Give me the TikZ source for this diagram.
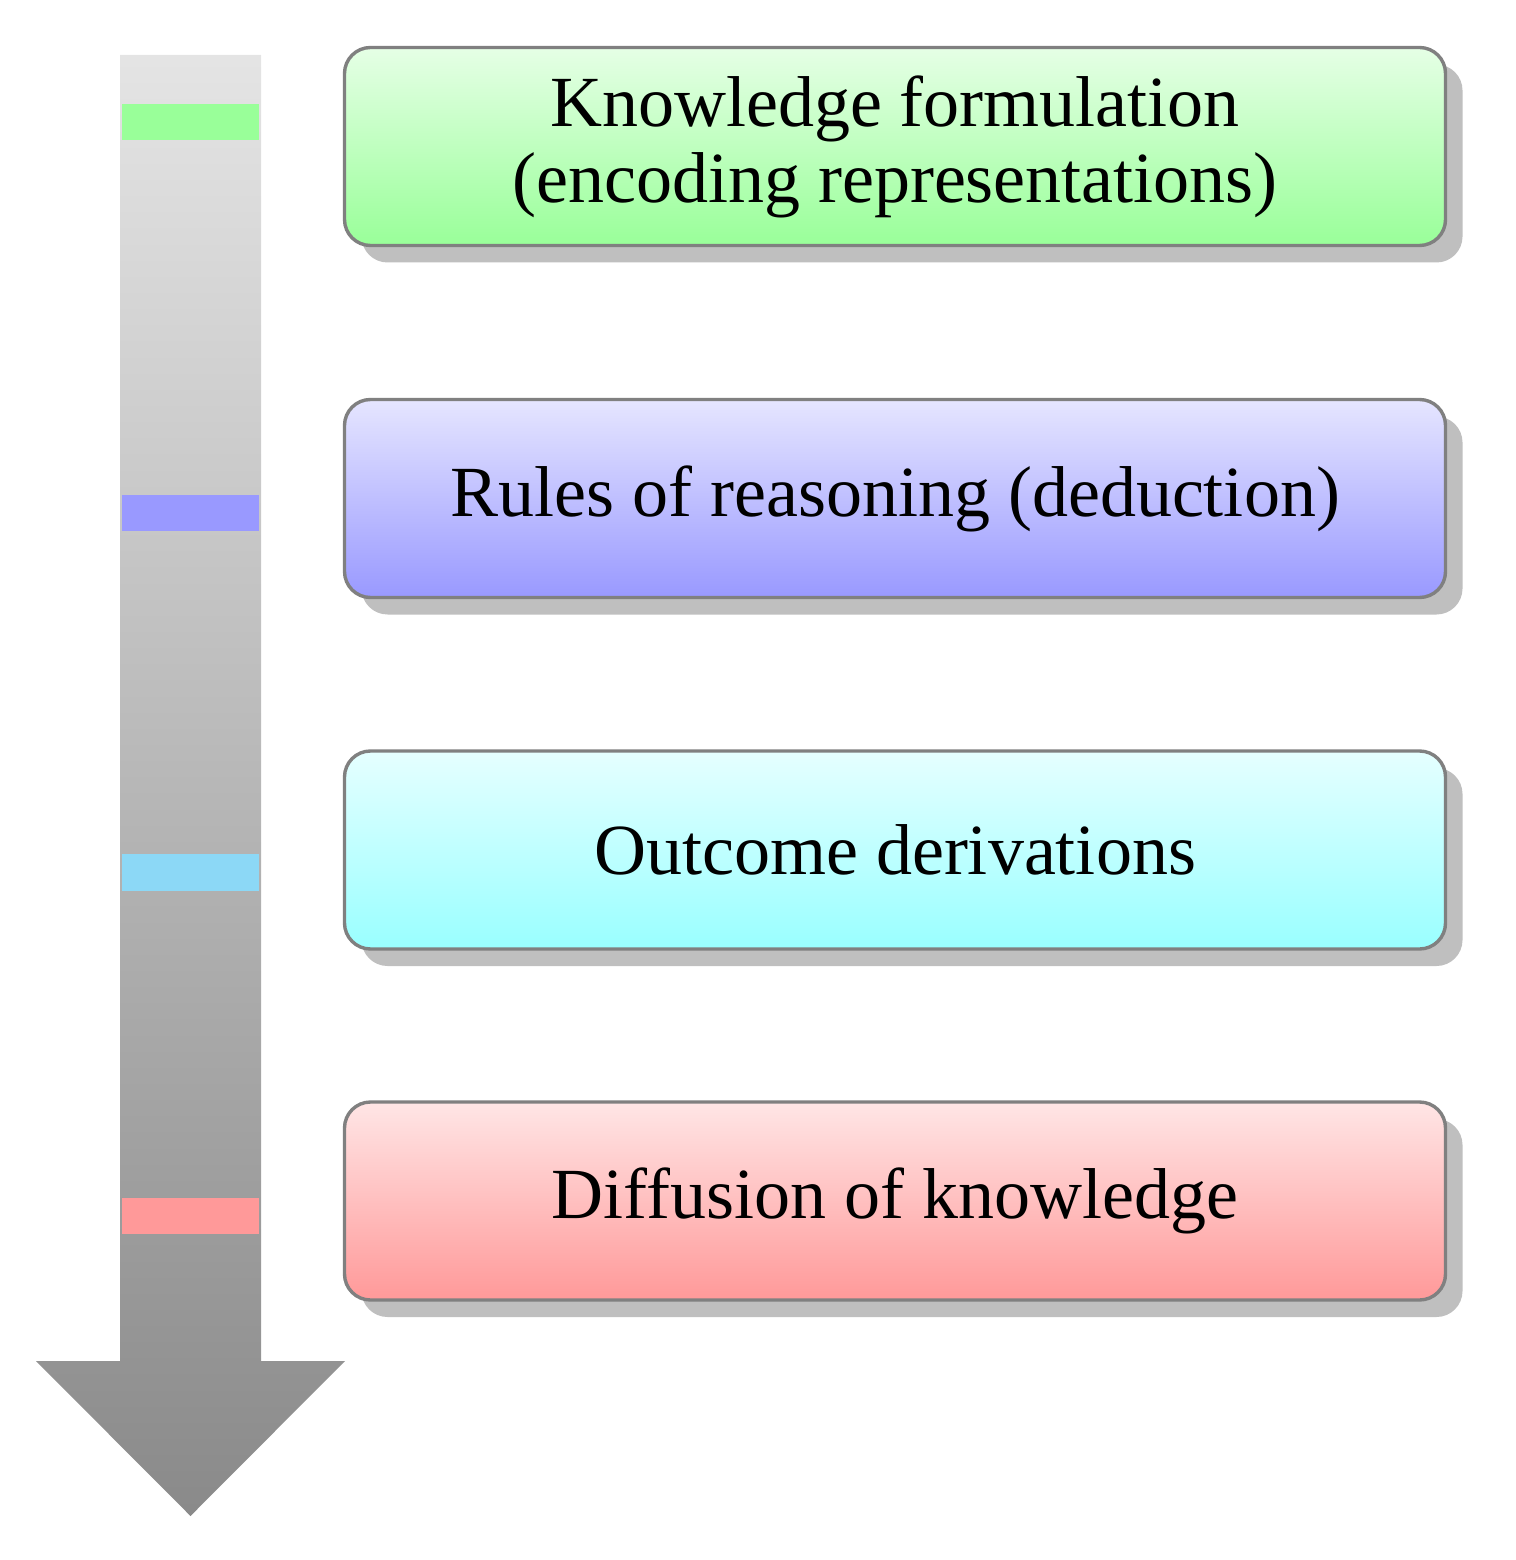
\documentclass[tikz,border=0pt]{standalone}
\usepackage{fontspec}
\setmainfont{Liberation Serif}
\usetikzlibrary{shadows}
\definecolor{mkcyan}{RGB}{140,216,246}
\tikzset{
  stagebox/.style={draw=black!50, line width=0.85pt, rounded corners=6.5pt,
    minimum width=275.25pt, minimum height=49.5pt, inner sep=0pt,
    align=center, font=\fontsize{18}{19}\selectfont,
    general shadow={shadow xshift=4.25pt, shadow yshift=-4.25pt, fill=black!25}}
}
\begin{document}
\begin{tikzpicture}[x=0.25pt, y=-0.25pt]
\useasboundingbox (0,0) rectangle (1516,1560);
% gradient arrow
\shade[top color=black!10.5, bottom color=black!46]
  (120,55) -- (261,55) -- (261,1361) -- (345,1361) -- (190.5,1516) -- (36,1361) -- (120,1361) -- cycle;
% markers
\fill[green!40] (122,104) rectangle (259,140);
\fill[blue!40] (122,495) rectangle (259,531);
\fill[mkcyan] (122,854) rectangle (259,891);
\fill[red!40] (122,1198) rectangle (259,1234);
% boxes
\node[stagebox, top color=green!10, bottom color=green!40] (k) at (895,146.5)
  {Knowledge formulation\\(encoding representations)};
\node[stagebox, top color=blue!10, bottom color=blue!40] (r) at (895,498.5)
  {Rules of reasoning (deduction)};
\node[stagebox, top color=cyan!10, bottom color=cyan!40] (o) at (895,850)
  {Outcome derivations};
\node[stagebox, top color=red!10, bottom color=red!40] (d) at (895,1201)
  {Diffusion of knowledge};
\end{tikzpicture}
\end{document}
